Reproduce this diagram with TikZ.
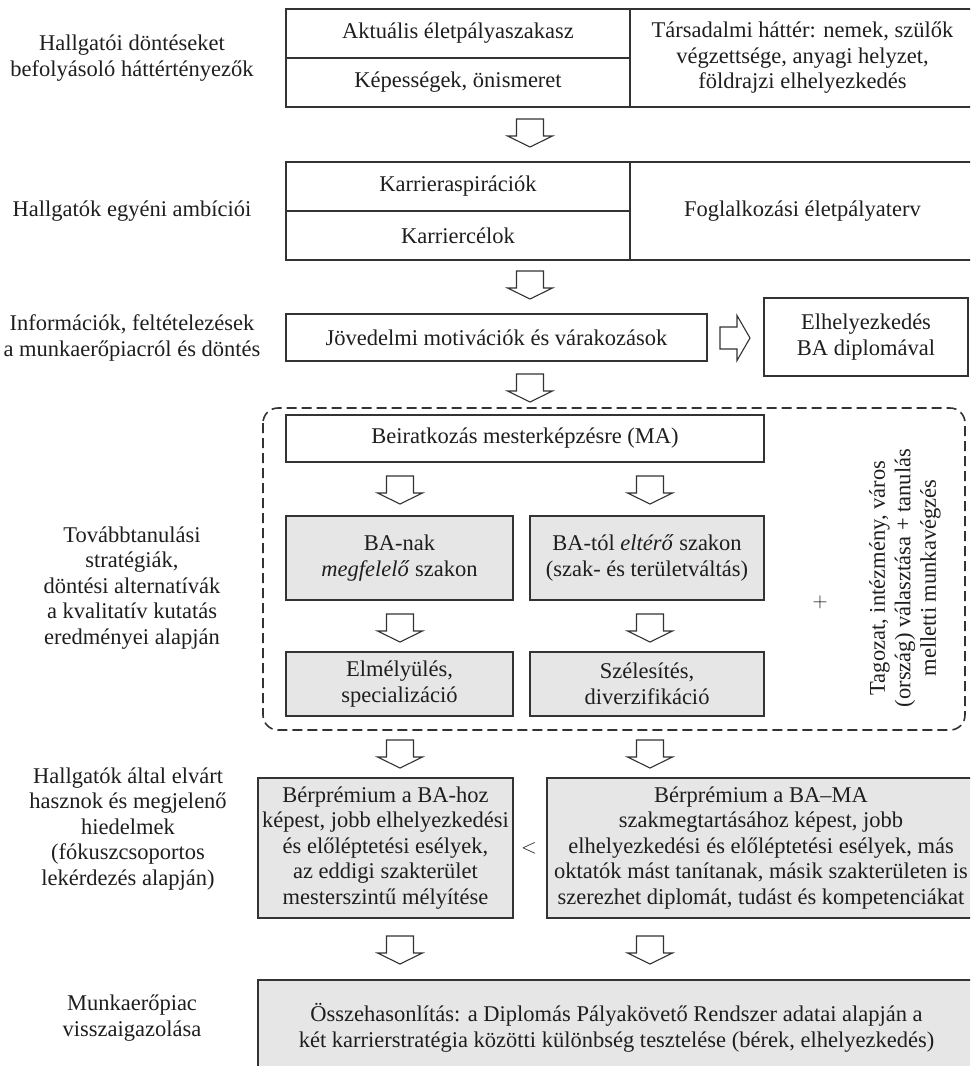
\documentclass[tikz,border=0pt]{standalone}
\usepackage{fontspec}
\setmainfont{Liberation Serif}
\usetikzlibrary{calc}
\definecolor{ln}{HTML}{333333}
\definecolor{tx}{HTML}{1E1E1E}
\definecolor{gr}{HTML}{E6E6E6}
\tikzset{
  cell/.style={draw=ln, line width=1.3pt, rectangle, inner sep=0pt, align=center, text=tx, font=\fsz},
  gcell/.style={cell, fill=gr},
  lab/.style={align=center, text=tx, font=\fsz, inner sep=0pt},
  blk/.style={draw=ln, line width=1.1pt, fill=white, line join=miter},
  darr/.pic={\draw[blk] (-13.5,0) -- (13.5,0) -- (13.5,17) -- (22.5,17) -- (0,28) -- (-22.5,17) -- (-13.5,17) -- cycle;},
  rarr/.pic={\draw[blk] (0,-11) -- (17,-11) -- (17,-22.5) -- (30,0) -- (17,22.5) -- (17,11) -- (0,11) -- cycle;}
}
\newcommand\fsz{\fontsize{22.5}{25.5}\selectfont}
\begin{document}
\begin{tikzpicture}[x=1pt,y=-1pt]
\useasboundingbox (0,0) rectangle (970,1066);
\clip (0,0) rectangle (970,1066);
% row 1
\node[cell, minimum width=344, minimum height=49] (akt) at (458,33.5) {Aktuális életpályaszakasz};
\node[cell, minimum width=344, minimum height=49] (kep) at (458,82.5) {Képességek, önismeret};
\node[cell, minimum width=345, minimum height=98] (tars) at (802.5,58) {Társadalmi háttér: nemek, szülők\\végzettsége, anyagi helyzet,\\földrajzi elhelyezkedés};
\node[lab] (l1) at (132,58) {Hallgatói döntéseket\\befolyásoló háttértényezők};
\pic at (530,119) {darr};
% row 2
\node[cell, minimum width=344, minimum height=49] (kasp) at (458,186.5) {Karrieraspirációk};
\node[cell, minimum width=344, minimum height=49] (kcel) at (458,235.5) {Karriercélok};
\node[cell, minimum width=345, minimum height=98] (fogl) at (802.5,211) {Foglalkozási életpályaterv};
\node[lab] (l2) at (132,211) {Hallgatók egyéni ambíciói};
\pic at (530,271) {darr};
% row 3
\node[cell, minimum width=421, minimum height=47] (jov) at (496.5,337.5) {Jövedelmi motivációk és várakozások};
\node[cell, minimum width=204, minimum height=78] (elh) at (866,337) {Elhelyezkedés\\BA diplomával};
\pic at (720,338) {rarr};
\node[lab] (l3) at (132,338) {Információk, feltételezések\\a munkaerőpiacról és döntés};
\pic at (530,374) {darr};
% dashed region
\draw[ln, line width=1.6pt, dash pattern=on 10pt off 5pt, rounded corners=15pt] (263,408) rectangle (965,730);
\node[cell, minimum width=478, minimum height=47] (beir) at (525,438.5) {Beiratkozás mesterképzésre (MA)};
\pic at (400,476) {darr};
\pic at (650,476) {darr};
\node[gcell, minimum width=227, minimum height=84] (meg) at (399.5,558) {BA-nak\\\textit{megfelelő} szakon};
\node[gcell, minimum width=234, minimum height=84] (elt) at (647,558) {BA-tól \textit{eltérő} szakon\\(szak- és területváltás)};
\pic at (400,614) {darr};
\pic at (650,614) {darr};
\node[gcell, minimum width=227, minimum height=64] (elm) at (399.5,684) {Elmélyülés,\\specializáció};
\node[gcell, minimum width=234, minimum height=64] (szel) at (647,684) {Szélesítés,\\diverzifikáció};
\node[lab] (plus) at (820,602) {\(+\)};
\node[lab, rotate=90] (tag) at (905,578) {Tagozat, intézmény, város\\(ország) választása + tanulás\\melletti munkavégzés};
\node[lab] (l4) at (132,588) {Továbbtanulási\\stratégiák,\\döntési alternatívák\\a kvalitatív kutatás\\eredményei alapján};
\pic at (400,740) {darr};
\pic at (650,740) {darr};
% row 5
\node[gcell, minimum width=255, minimum height=140] (bp1) at (385.5,848) {Bérprémium a BA-hoz\\képest, jobb elhelyezkedési\\és előléptetési esélyek,\\az eddigi szakterület\\mesterszintű mélyítése};
\node[gcell, minimum width=428, minimum height=140] (bp2) at (761,848) {Bérprémium a BA–MA\\szakmegtartásához képest, jobb\\elhelyezkedési és előléptetési esélyek, más\\oktatók mást tanítanak, másik szakterületen is\\szerezhet diplomát, tudást és kompetenciákat};
\node[lab] (lt) at (529,848) {\(<\)};
\node[lab] (l5) at (128,829) {Hallgatók által elvárt\\hasznok és megjelenő\\hiedelmek\\(fókuszcsoportos\\lekérdezés alapján)};
\pic at (400,936) {darr};
\pic at (650,936) {darr};
% row 6
\node[gcell, minimum width=717, minimum height=96] (oss) at (616.5,1028) {Összehasonlítás: a Diplomás Pályakövető Rendszer adatai alapján a\\két karrierstratégia közötti különbség tesztelése (bérek, elhelyezkedés)};
\node[lab] (l6) at (132,1018) {Munkaerőpiac\\visszaigazolása};
\end{tikzpicture}
\end{document}
